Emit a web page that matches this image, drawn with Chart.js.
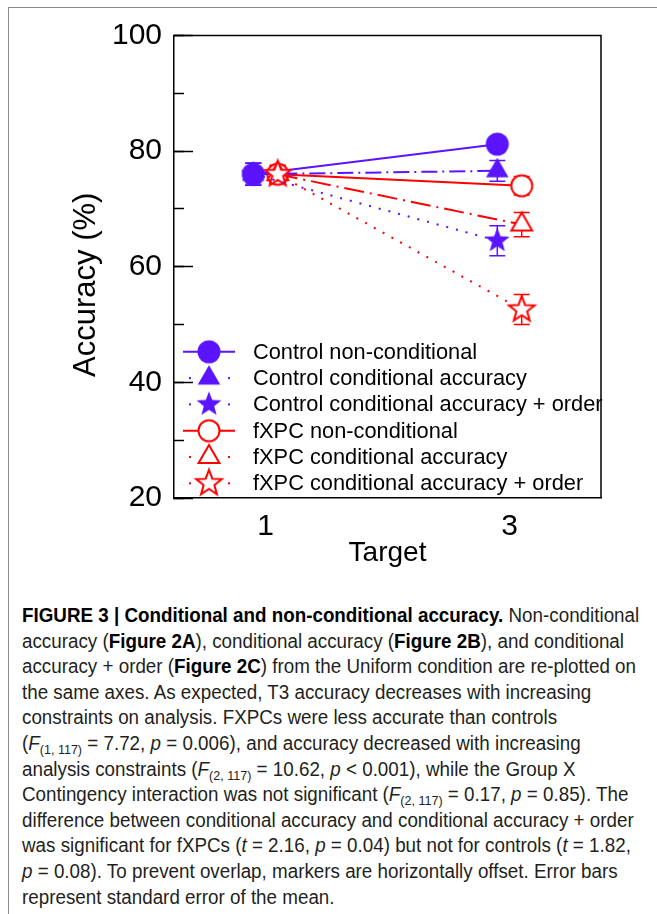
<!DOCTYPE html>
<html>
<head>
<meta charset="utf-8">
<script src="https://cdn.jsdelivr.net/npm/chart.js@4.4.1/dist/chart.umd.min.js"></script>
<style>
  html, body { margin: 0; padding: 0; background: #fff; }
  body { width: 657px; height: 914px; position: relative; overflow: hidden; }
  #frame { position: absolute; left: 8px; top: 7px; right: 0; bottom: -4px; border-top: 1.5px solid #8a8a8a; border-left: 1.5px solid #8a8a8a; }
  #chartBox { position: absolute; left: 0; top: 0; width: 657px; height: 580px; }
  #caption { position: absolute; left: 22px; top: 603px; font-family: "Liberation Sans", Arial, sans-serif; font-size: 19.5px; line-height: 25.6px; color: #231f20; white-space: nowrap; transform-origin: 0 0; }
  #caption div { width: max-content; }
  #caption b { color: #000; }
  #caption sub { font-size: 13px; line-height: 0; vertical-align: -4px; }
</style>
</head>
<body>
<div id="frame"></div>
<div id="chartBox"><canvas id="accChart" width="657" height="580"></canvas></div>
<div id="caption">
  <div><b>FIGURE 3 | Conditional and non-conditional accuracy.</b> Non-conditional</div>
  <div>accuracy (<b>Figure 2A</b>), conditional accuracy (<b>Figure 2B</b>), and conditional</div>
  <div id="capRef">accuracy + order (<b>Figure 2C</b>) from the Uniform condition are re-plotted on</div>
  <div>the same axes. As expected, T3 accuracy decreases with increasing</div>
  <div>constraints on analysis. FXPCs were less accurate than controls</div>
  <div>(<i>F</i><sub>(1, 117)</sub> = 7.72, <i>p</i> = 0.006), and accuracy decreased with increasing</div>
  <div>analysis constraints (<i>F</i><sub>(2, 117)</sub> = 10.62, <i>p</i> &lt; 0.001), while the Group X</div>
  <div>Contingency interaction was not significant (<i>F</i><sub>(2, 117)</sub> = 0.17, <i>p</i> = 0.85). The</div>
  <div>difference between conditional accuracy and conditional accuracy + order</div>
  <div>was significant for fXPCs (<i>t</i> = 2.16, <i>p</i> = 0.04) but not for controls (<i>t</i> = 1.82,</div>
  <div><i>p</i> = 0.08). To prevent overlap, markers are horizontally offset. Error bars</div>
  <div>represent standard error of the mean.</div>
</div>
<script>
// values (accuracy %, SE)
const targets = [1, 3];
const yTickLabels = [20, 40, 60, 80, 100];

const controlNonCond = [76, 81.2];
const controlNonCondErr = [1.9, 1.2];
const controlCond = [76, 76.6];
const controlCondErr = [1.9, 1.8];
const controlCondOrder = [76, 64.5];
const controlCondOrderErr = [1.9, 2.6];

const fxpcNonCond = [76, 74.0];
const fxpcNonCondErr = [1.5, 1.6];
const fxpcCond = [76, 67.3];
const fxpcCondErr = [1.5, 2.1];
const fxpcCondOrder = [76, 52.6];
const fxpcCondOrderErr = [1.5, 2.6];

const PURPLE = '#5a14ff';
const RED = '#ff0000';
const FONT = '"Liberation Sans", Arial, sans-serif';

// caption font is condensed in the original: squeeze the block to the same line width
const cap = document.getElementById('caption');
cap.style.transform = 'scaleX(' + (614 / document.getElementById('capRef').getBoundingClientRect().width) + ')';

// marker glyphs as small canvases (Chart.js has no 5-point star)
function makeMarker(shape, size, fill, stroke) {
    const c = document.createElement('canvas');
    c.width = c.height = 32;
    const g = c.getContext('2d');
    const m = 16;
    g.beginPath();
    if (shape === 'circle') {
        g.arc(m, m, size, 0, Math.PI * 2);
    } else if (shape === 'triangle') {
        g.moveTo(m, m - size);
        g.lineTo(m + size * 0.866, m + size * 0.5);
        g.lineTo(m - size * 0.866, m + size * 0.5);
        g.closePath();
    } else {
        for (let i = 0; i < 10; i++) {
            const r = i % 2 ? size * 0.42 : size;
            const a = -Math.PI / 2 + i * Math.PI / 5;
            g.lineTo(m + r * Math.cos(a), m + r * Math.sin(a));
        }
        g.closePath();
    }
    g.fillStyle = fill;
    g.fill();
    if (stroke) { g.lineWidth = 2; g.strokeStyle = stroke; g.stroke(); }
    return c;
}

function series(label, values, errors, offset, color, dash, marker, order) {
    return {
        label, errors, order,
        data: targets.map((t, i) => ({ x: t + offset, y: values[i] })),
        showLine: true,
        borderColor: color,
        backgroundColor: color,
        borderWidth: 2,
        borderDash: dash,
        pointStyle: marker,
        pointRadius: 12,
        pointHoverRadius: 12
    };
}

const datasets = [
    series('Control non-conditional', controlNonCond, controlNonCondErr, -0.1, PURPLE, [], makeMarker('circle', 11.5, PURPLE), 2),
    series('Control conditional accuracy', controlCond, controlCondErr, -0.1, PURPLE, [16, 5, 2, 5], makeMarker('triangle', 13, PURPLE), 1),
    series('Control conditional accuracy + order', controlCondOrder, controlCondOrderErr, -0.1, PURPLE, [2, 8], makeMarker('star', 13, PURPLE), 0),
    series('fXPC non-conditional', fxpcNonCond, fxpcNonCondErr, 0.1, RED, [], makeMarker('circle', 10.5, '#fff', RED), 2),
    series('fXPC conditional accuracy', fxpcCond, fxpcCondErr, 0.1, RED, [20, 6, 2, 6], makeMarker('triangle', 12, '#fff', RED), 1),
    series('fXPC conditional accuracy + order', fxpcCondOrder, fxpcCondOrderErr, 0.1, RED, [2, 8], makeMarker('star', 13.5, '#fff', RED), 0)
];

const errorBars = {
    id: 'errorBars',
    beforeDatasetsDraw(chart) {
        const { ctx, scales: { x, y } } = chart;
        ctx.save();
        ctx.lineWidth = 1.5;
        chart.data.datasets.forEach(d => {
            ctx.strokeStyle = d.borderColor;
            d.data.forEach((p, i) => {
                const px = x.getPixelForValue(p.x);
                const top = y.getPixelForValue(p.y + d.errors[i]);
                const bot = y.getPixelForValue(p.y - d.errors[i]);
                ctx.beginPath();
                ctx.moveTo(px, top); ctx.lineTo(px, bot);
                ctx.moveTo(px - 8, top); ctx.lineTo(px + 8, top);
                ctx.moveTo(px - 8, bot); ctx.lineTo(px + 8, bot);
                ctx.stroke();
            });
        });
        ctx.restore();
    }
};

const frameAndLegend = {
    id: 'frameAndLegend',
    afterDraw(chart) {
        const { ctx, chartArea: a } = chart;
        ctx.save();
        ctx.strokeStyle = '#000';
        ctx.lineWidth = 1.5;
        ctx.beginPath();
        ctx.moveTo(a.left, a.top); ctx.lineTo(a.right, a.top); ctx.lineTo(a.right, a.bottom);
        ctx.stroke();

        // y axis title
        ctx.fillStyle = '#000';
        ctx.font = '31px ' + FONT;
        ctx.textAlign = 'center';
        ctx.textBaseline = 'middle';
        ctx.translate(a.left - 88, (a.top + a.bottom) / 2 + 18);
        ctx.rotate(-Math.PI / 2);
        ctx.fillText('Accuracy (%)', 0, 0);
        ctx.restore();

        // legend inside the plot, bottom-left
        ctx.save();
        ctx.font = '21.8px ' + FONT;
        ctx.textBaseline = 'middle';
        ctx.textAlign = 'left';
        const n = chart.data.datasets.length;
        chart.data.datasets.forEach((d, i) => {
            const yy = a.bottom - 14.7 - (n - 1 - i) * 26.3;
            ctx.strokeStyle = d.borderColor;
            ctx.fillStyle = d.borderColor;
            ctx.lineWidth = 2;
            if (d.borderDash.length === 0) {
                ctx.beginPath();
                ctx.moveTo(a.left + 9, yy); ctx.lineTo(a.left + 61, yy);
                ctx.stroke();
            } else {
                ctx.fillRect(a.left + 15, yy - 1, 2, 2);
                ctx.fillRect(a.left + 54, yy - 1, 2, 2);
            }
            const img = d.pointStyle;
            ctx.drawImage(img, a.left + 35 - img.width / 2, yy - img.height / 2);
            ctx.fillStyle = '#000';
            ctx.fillText(d.label, a.left + 79, yy + 1);
        });
        ctx.restore();
    }
};

Chart.defaults.font.family = FONT;
Chart.defaults.color = '#000';

new Chart(document.getElementById('accChart'), {
    type: 'scatter',
    data: { datasets },
    plugins: [errorBars, frameAndLegend],
    options: {
        responsive: false,
        animation: false,
        layout: { padding: { left: 0, top: 35.5, right: 56, bottom: 0 } },
        plugins: { legend: { display: false }, tooltip: { enabled: false } },
        scales: {
            x: {
                type: 'linear',
                min: 0.25, max: 3.75,
                afterBuildTicks: s => { s.ticks = targets.map(v => ({ value: v })); },
                afterFit: s => { s.height = 82; },
                ticks: { font: { size: 30 }, padding: 11, callback: v => String(v) },
                grid: { display: false, drawTicks: false },
                border: { color: '#000', width: 1.5 },
                title: { display: true, text: 'Target', font: { size: 28 }, padding: { top: 0, bottom: 10 } }
            },
            y: {
                min: 20, max: 100,
                weight: 1,
                afterFit: s => { s.width = 174; s.paddingTop = 0; s.paddingBottom = 0; },
                ticks: { stepSize: 10, font: { size: 30 }, padding: 22,
                    callback: v => yTickLabels.includes(v) ? String(v) : '' },
                grid: { drawOnChartArea: false, drawTicks: true, tickLength: -10, tickColor: '#000', tickWidth: 1.5 },
                border: { color: '#000', width: 1.5 }
            },
            yMajor: {
                position: 'left',
                min: 20, max: 100,
                weight: 0,
                afterBuildTicks: s => { s.ticks = yTickLabels.map(v => ({ value: v })); },
                afterFit: s => { s.width = 0; s.paddingTop = 0; s.paddingBottom = 0; },
                ticks: { display: false },
                grid: { drawOnChartArea: false, drawTicks: true, tickLength: -19, tickColor: '#000', tickWidth: 1.5 },
                border: { display: false }
            }
        }
    }
});
</script>
</body>
</html>
